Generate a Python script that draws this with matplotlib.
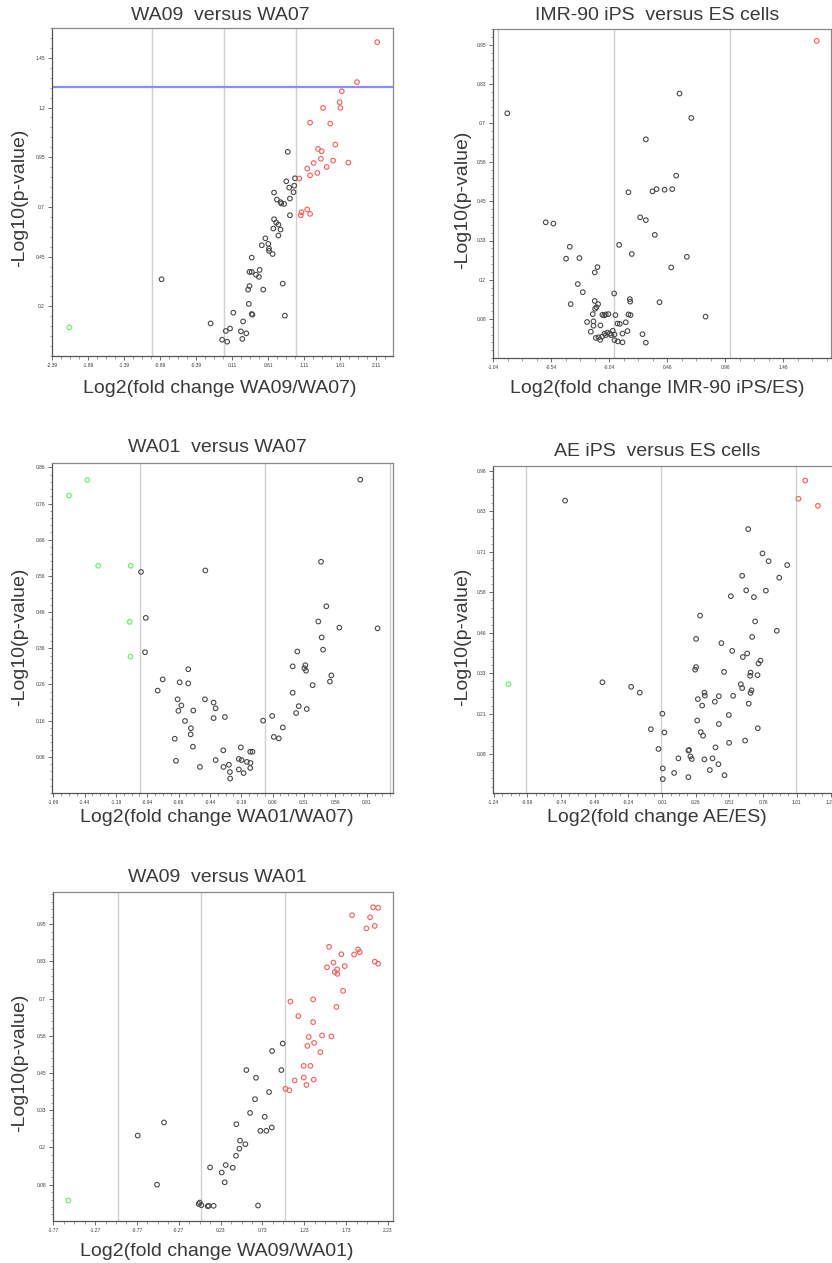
import matplotlib
matplotlib.use("Agg")
import matplotlib.pyplot as plt
from matplotlib.ticker import AutoMinorLocator

plt.rcParams['font.family'] = ['Liberation Sans', 'DejaVu Sans']

# ---- WA09 versus WA07 ----
p1_red_x = [2.12, 1.84, 1.63, 1.60, 1.61, 1.37, 1.19, 1.47, 1.54, 1.30, 1.35, 1.34, 1.51, 1.72,
            1.24, 1.42, 1.15, 1.29, 1.19, 1.04, 1.15, 1.07, 1.06, 1.19]
p1_red_y = [1.529, 1.328, 1.282, 1.227, 1.198, 1.198, 1.124, 1.119, 1.014, 0.992, 0.98, 0.942, 0.933,
            0.923, 0.921, 0.901, 0.893, 0.871, 0.859, 0.843, 0.687, 0.673, 0.658, 0.665]
p1_blk_x = [0.88, 0.98, 0.86, 0.97, 0.90, 0.96, 0.69, 0.91, 0.73, 0.78, 0.79, 0.83, 0.91, 0.69, 0.72,
            0.75, 0.78, 0.68, 0.75, 0.57, 0.52, 0.61, 0.62, 0.62, 0.67, 0.38, 0.49, 0.35, 0.38, 0.44,
            0.48, -0.87, 0.81, 0.35, 0.33, 0.54, 0.34, 0.125, 0.38, 0.39, 0.84, 0.26, -0.19, 0.08,
            0.02, 0.23, 0.305, -0.03, 0.04, 0.25]
p1_blk_y = [0.977, 0.844, 0.829, 0.807, 0.797, 0.774, 0.772, 0.742, 0.737, 0.724, 0.717, 0.715, 0.658,
            0.638, 0.621, 0.611, 0.586, 0.591, 0.556, 0.542, 0.507, 0.514, 0.490, 0.479, 0.463, 0.445,
            0.383, 0.373, 0.373, 0.359, 0.348, 0.336, 0.314, 0.302, 0.284, 0.284, 0.212, 0.168, 0.161,
            0.158, 0.153, 0.124, 0.114, 0.088, 0.076, 0.074, 0.064, 0.032, 0.022, 0.036]
p1_grn_x = [-2.15]
p1_grn_y = [0.094]
p1_xticks = [-2.39, -1.89, -1.39, -0.89, -0.39, 0.11, 0.61, 1.11, 1.61, 2.11]
p1_yticks = [0.2, 0.45, 0.7, 0.95, 1.2, 1.45]
p1_ylabels = ["0.2", "0.45", "0.7", "0.95", "1.2", "1.45"]
p1_cutoff = 1.301

# ---- IMR-90 iPS versus ES cells ----
p2_red_x = [1.747]
p2_red_y = [0.962]
p2_blk_x = [-0.917, 0.566, 0.667, 0.276, 0.537, 0.126, 0.333, 0.368, 0.437, 0.503, 0.227, 0.276,
            -0.586, -0.520, 0.353, -0.379, 0.046, -0.411, -0.296, 0.155, 0.629, -0.141, 0.494,
            -0.164, -0.310, -0.267, 0.003, -0.371, -0.164, -0.135, -0.149, -0.161, 0.138, 0.141,
            0.394, -0.181, -0.098, -0.083, -0.069, -0.046, 0.014, 0.126, 0.144, 0.790, -0.230,
            -0.175, -0.175, -0.115, 0.032, 0.052, 0.103, -0.198, -0.009, -0.080, -0.055, -0.034,
            -0.023, 0.006, 0.118, 0.075, 0.247, -0.155, -0.132, -0.118, -0.101, 0.006, 0.034,
            0.075, 0.276, -0.069]
p2_blk_y = [0.731, 0.794, 0.716, 0.648, 0.532, 0.479, 0.482, 0.489, 0.487, 0.489, 0.399, 0.390,
            0.383, 0.379, 0.343, 0.305, 0.311, 0.267, 0.269, 0.282, 0.273, 0.240, 0.239, 0.223,
            0.186, 0.160, 0.156, 0.122, 0.132, 0.122, 0.112, 0.107, 0.138, 0.130, 0.128, 0.090,
            0.088, 0.086, 0.089, 0.090, 0.087, 0.089, 0.087, 0.082, 0.065, 0.067, 0.053, 0.054,
            0.060, 0.059, 0.064, 0.034, 0.037, 0.028, 0.031, 0.028, 0.023, 0.025, 0.036, 0.028,
            0.026, 0.014, 0.016, 0.008, 0.018, 0.007, 0.003, 0.000, -0.001, 0.023]
p2_xticks = [-1.04, -0.54, -0.04, 0.46, 0.96, 1.46]
p2_yticks = [0.075, 0.2, 0.325, 0.45, 0.575, 0.7, 0.825, 0.95]
p2_ylabels = ["0.08", "0.2", "0.33", "0.45", "0.58", "0.7", "0.83", "0.95"]

# ---- WA01 versus WA07 ----
p3_grn_x = [-1.419, -1.565, -1.332, -1.072, -1.080, -1.074]
p3_grn_y = [0.825, 0.782, 0.588, 0.588, 0.433, 0.337]
p3_blk_x = [0.759, -0.99, -0.477, 0.446, 0.488, -0.952, 0.424, 0.592, 0.897, 0.451, -0.958, 0.257,
            0.462, 0.220, 0.321, 0.313, 0.326, -0.613, -0.817, -0.682, -0.613, 0.528, 0.517, 0.379,
            -0.857, -0.698, -0.480, -0.411, -0.668, -0.395, 0.220, 0.268, 0.247, -0.692, -0.573,
            0.332, -0.411, -0.321, -0.639, -0.016, 0.056, 0.141, -0.592, 0.069, 0.109, -0.594,
            -0.721, -0.576, -0.194, -0.334, -0.119, -0.101, -0.711, -0.395, -0.210, -0.188, -0.146,
            -0.117, -0.289, -0.520, -0.332, -0.119, -0.210, -0.281, -0.172, -0.279]
p3_blk_y = [0.826, 0.571, 0.575, 0.599, 0.476, 0.444, 0.434, 0.417, 0.415, 0.390, 0.349, 0.351,
            0.356, 0.310, 0.313, 0.305, 0.298, 0.302, 0.274, 0.266, 0.263, 0.285, 0.268, 0.258,
            0.243, 0.219, 0.219, 0.210, 0.202, 0.194, 0.237, 0.200, 0.181, 0.187, 0.188, 0.192,
            0.167, 0.170, 0.159, 0.160, 0.173, 0.141, 0.139, 0.115, 0.111, 0.122, 0.110, 0.088,
            0.086, 0.078, 0.074, 0.074, 0.049, 0.051, 0.054, 0.051, 0.046, 0.043, 0.038, 0.032,
            0.032, 0.029, 0.025, 0.018, 0.015, 0.000]
p3_xticks = [-1.69, -1.44, -1.19, -0.94, -0.69, -0.44, -0.19, 0.06, 0.31, 0.56, 0.81]
p3_yticks = [0.06, 0.16, 0.26, 0.36, 0.46, 0.56, 0.66, 0.76, 0.86]
p3_ylabels = ["0.06", "0.16", "0.26", "0.36", "0.46", "0.56", "0.66", "0.76", "0.86"]

# ---- AE iPS versus ES cells ----
p4_red_x = [1.072, 1.022, 1.166]
p4_red_y = [0.925, 0.869, 0.847]
p4_grn_x = [-1.131]
p4_grn_y = [0.296]
p4_blk_x = [-0.710, 0.649, 0.755, 0.800, 0.938, 0.604, 0.879, 0.634, 0.780, 0.520, 0.691, 0.292,
            0.700, 0.861, 0.262, 0.450, 0.678, 0.530, 0.641, 0.609, 0.740, 0.725, 0.262, 0.255,
            0.470, 0.666, 0.663, 0.718, -0.433, -0.220, -0.156, 0.594, 0.604, 0.673, 0.666, 0.324,
            0.327, 0.431, 0.275, 0.401, 0.307, 0.653, 0.537, 0.012, 0.505, 0.270, -0.074, 0.027,
            0.431, 0.720, 0.297, 0.314, 0.626, 0.507, -0.017, 0.210, 0.205, 0.406, 0.220, 0.230,
            0.131, 0.324, 0.384, 0.428, 0.015, 0.099, 0.364, 0.205, 0.473, 0.015]
p4_blk_y = [0.863, 0.775, 0.700, 0.676, 0.664, 0.631, 0.625, 0.586, 0.585, 0.568, 0.565, 0.508,
            0.490, 0.461, 0.436, 0.423, 0.442, 0.399, 0.391, 0.380, 0.369, 0.360, 0.349, 0.341,
            0.334, 0.332, 0.322, 0.324, 0.302, 0.288, 0.270, 0.296, 0.284, 0.277, 0.269, 0.270,
            0.261, 0.259, 0.250, 0.242, 0.230, 0.236, 0.260, 0.205, 0.201, 0.184, 0.157, 0.147,
            0.173, 0.160, 0.148, 0.137, 0.122, 0.115, 0.096, 0.093, 0.091, 0.101, 0.073, 0.065,
            0.067, 0.064, 0.067, 0.049, 0.036, 0.022, 0.031, 0.009, 0.015, 0.003]
p4_xticks = [-1.24, -0.99, -0.74, -0.49, -0.24, 0.01, 0.26, 0.51, 0.76, 1.01, 1.26]
p4_yticks = [0.08, 0.205, 0.33, 0.455, 0.58, 0.705, 0.83, 0.955]
p4_ylabels = ["0.08", "0.21", "0.33", "0.46", "0.58", "0.71", "0.83", "0.96"]

# ---- WA09 versus WA01 ----
p5_red_x = [2.052, 2.112, 1.801, 2.016, 2.072, 1.972, 1.526, 1.673, 1.825, 1.873, 1.892, 1.578,
            2.072, 2.112, 1.502, 1.713, 1.622, 1.594, 1.625, 1.693, 1.335, 1.064, 1.614, 1.159,
            1.335, 1.283, 1.442, 1.554, 1.347, 1.267, 1.422, 1.223, 1.303, 1.223, 1.116, 1.343,
            1.255, 1.004, 1.052]
p5_red_y = [1.007, 1.005, 0.980, 0.973, 0.944, 0.936, 0.874, 0.849, 0.848, 0.865, 0.856, 0.821,
            0.824, 0.817, 0.805, 0.809, 0.798, 0.789, 0.783, 0.726, 0.697, 0.690, 0.672, 0.641,
            0.621, 0.571, 0.576, 0.573, 0.551, 0.541, 0.520, 0.474, 0.474, 0.435, 0.425, 0.428,
            0.410, 0.397, 0.392]
p5_blk_x = [0.972, 0.845, 0.956, 0.538, 0.653, 0.809, 0.641, 0.582, 0.757, 0.418, 0.705, 0.777,
            0.841, -0.446, -0.761, 0.462, 0.526, 0.454, 0.414, 0.291, 0.104, 0.375, 0.243, 0.279,
            -0.530, -0.020, 0.000, -0.032, 0.076, 0.088, 0.147, 0.677]
p5_blk_y = [0.549, 0.524, 0.460, 0.460, 0.434, 0.386, 0.362, 0.316, 0.303, 0.278, 0.256, 0.256,
            0.267, 0.284, 0.240, 0.223, 0.211, 0.196, 0.172, 0.141, 0.133, 0.132, 0.116, 0.083,
            0.075, 0.015, 0.006, 0.010, 0.003, 0.004, 0.004, 0.005]
p5_grn_x = [-1.590]
p5_grn_y = [0.022]
p5_xticks = [-1.77, -1.27, -0.77, -0.27, 0.23, 0.73, 1.23, 1.73, 2.23]
p5_yticks = [0.075, 0.2, 0.325, 0.45, 0.575, 0.7, 0.825, 0.95]
p5_ylabels = ["0.08", "0.2", "0.33", "0.45", "0.58", "0.7", "0.83", "0.95"]

fold_lines = [-1, 0, 1]

W, H = 832, 1263
fig = plt.figure(figsize=(W / 100, H / 100), dpi=100)
TXT = '#3a3a3a'


def make_axes(l, r, t, b):
    return fig.add_axes([l / W, 1 - b / H, (r - l) / W, (b - t) / H])


def style(ax, xticks, yticks, ylabels, xlim, ylim):
    ax.set_xlim(*xlim)
    ax.set_ylim(*ylim)
    ax.set_xticks(xticks)
    ax.set_xticklabels(["%.2f" % v for v in xticks])
    ax.set_yticks(yticks)
    ax.set_yticklabels(ylabels)
    ax.xaxis.set_minor_locator(AutoMinorLocator(4))
    ax.yaxis.set_minor_locator(AutoMinorLocator(5))
    ax.tick_params(which='major', length=3, width=0.6, labelsize=3.5, colors='#555555',
                   labelcolor=TXT, pad=2)
    ax.tick_params(which='minor', length=1.8, width=0.5, colors='#777777')
    for s in ax.spines.values():
        s.set_color('#888888')
        s.set_linewidth(0.9)
    ax.spines['left'].set_color('#555555')
    ax.spines['bottom'].set_color('#555555')
    for v in fold_lines:
        ax.axvline(v, color='#d0d0d0', lw=1.0, zorder=1)


def pts(ax, x, y, c):
    ax.scatter(x, y, s=11, facecolors='none', edgecolors=c, linewidths=0.8, zorder=3)


def labels(cx, xl_y, title, t_y, xlabel, ylx, yly):
    fig.text(cx / W, 1 - t_y / H, title, ha='center', va='center', fontsize=14, color=TXT)
    fig.text(cx / W, 1 - xl_y / H, xlabel, ha='center', va='center', fontsize=14, color=TXT)
    fig.text(ylx / W, 1 - yly / H, '-Log10(p-value)', ha='center', va='center', fontsize=14,
             color=TXT, rotation=90)


BLK, RED, GRN = '#4a4a4a', '#ff5a5a', '#66ee66'

# panel 1
ax1 = make_axes(52, 393, 28, 356)
style(ax1, p1_xticks, p1_yticks, p1_ylabels, (-2.39, 2.34), (-0.05, 1.6))
ax1.axhline(p1_cutoff, color='#8c8cff', lw=1.6, zorder=2)
pts(ax1, p1_blk_x, p1_blk_y, BLK)
pts(ax1, p1_red_x, p1_red_y, RED)
pts(ax1, p1_grn_x, p1_grn_y, GRN)
labels(220, 388, 'WA09  versus WA07', 15, 'Log2(fold change WA09/WA07)', 20, 198)

# panel 2
ax2 = make_axes(493, 831, 29, 358)
style(ax2, p2_xticks, p2_yticks, p2_ylabels, (-1.04, 1.87), (-0.05, 1.0))
pts(ax2, p2_blk_x, p2_blk_y, BLK)
pts(ax2, p2_red_x, p2_red_y, RED)
labels(657, 388, 'IMR-90 iPS  versus ES cells', 15, 'Log2(fold change IMR-90 iPS/ES)', 463, 200)

# panel 3
ax3 = make_axes(52, 393, 463, 793)
style(ax3, p3_xticks, p3_yticks, p3_ylabels, (-1.70, 1.02), (-0.04, 0.872))
pts(ax3, p3_blk_x, p3_blk_y, BLK)
pts(ax3, p3_grn_x, p3_grn_y, GRN)
labels(217, 818, 'WA01  versus WA07', 447, 'Log2(fold change WA01/WA07)', 20, 637)

# panel 4
ax4 = make_axes(493, 840, 466, 793)
style(ax4, p4_xticks, p4_yticks, p4_ylabels, (-1.245, 1.33), (-0.04, 0.97))
pts(ax4, p4_blk_x, p4_blk_y, BLK)
pts(ax4, p4_red_x, p4_red_y, RED)
pts(ax4, p4_grn_x, p4_grn_y, GRN)
labels(657, 818, 'AE iPS  versus ES cells', 452, 'Log2(fold change AE/ES)', 463, 637)

# panel 5
ax5 = make_axes(53, 393, 892, 1221)
style(ax5, p5_xticks, p5_yticks, p5_ylabels, (-1.773, 2.29), (-0.047, 1.058))
pts(ax5, p5_blk_x, p5_blk_y, BLK)
pts(ax5, p5_red_x, p5_red_y, RED)
pts(ax5, p5_grn_x, p5_grn_y, GRN)
labels(217, 1252, 'WA09  versus WA01', 877, 'Log2(fold change WA09/WA01)', 20, 1063)

fig.savefig('out.png', dpi=100)
